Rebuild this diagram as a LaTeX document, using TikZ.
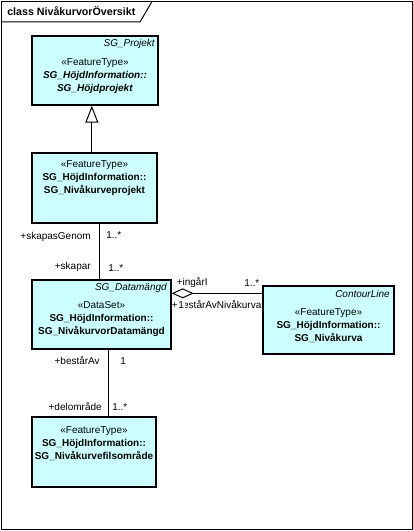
\documentclass[tikz,border=0pt]{standalone}
\usepackage{fontspec}
\setmainfont{Liberation Sans}
\usetikzlibrary{arrows.meta}
\usetikzlibrary{fit}

\definecolor{classfill}{RGB}{204,255,255}

\begin{document}
\begin{tikzpicture}[x=0.75pt,y=-0.75pt,
font=\fontsize{7.5}{9.75}\selectfont,
classbox/.style={draw,line width=1pt,fill=classfill,inner sep=0pt},
classtext/.style={align=center,inner sep=0pt},
rolelabel/.style={inner sep=0pt},
abstractname/.style={inner sep=0pt,anchor=east,font=\fontsize{7.5}{9.75}\selectfont\itshape},
gen/.style={line width=0.75pt,-{Triangle[fill=white,length=12.75pt,width=9.75pt]}},
assoc/.style={line width=0.75pt},
agg/.style={line width=0.75pt,{Diamond[fill=white,length=16.5pt,width=7.5pt]}-}]
\useasboundingbox (0,0) rectangle (413,531);
\draw[line width=0.75pt] (1.5,1.5) rectangle (412,529);
\draw[line width=0.75pt] (1.5,22) -- (140,22) -- (152,1.5);
\node (frame) [rolelabel,anchor=west,font=\fontsize{8}{10}\selectfont\bfseries]
at (7,11) {class NivåkurvorÖversikt};

\node (proj) [classbox,fit={(32,36) (158,105)}] {};
\node (projname) [abstractname] at (155,44) {SG\_Projekt};
\node (projtext) [classtext] at (95,76)
{«FeatureType»\\\textbf{\textit{SG\_HöjdInformation::}}\\\textbf{\textit{SG\_Höjdprojekt}}};

\node (nivproj) [classbox,fit={(32,153) (157,223)}] {};
\node (nivprojtext) [classtext] at (94.5,178.5)
{«FeatureType»\\\textbf{SG\_HöjdInformation::}\\\textbf{SG\_Nivåkurveprojekt}};

\node (dataset) [classbox,fit={(32,280) (171,349)}] {};
\node (datasetname) [abstractname] at (167,288) {SG\_Datamängd};
\node (datasettext) [classtext] at (101.5,319.5)
{«DataSet»\\\textbf{SG\_HöjdInformation::}\\\textbf{SG\_NivåkurvorDatamängd}};

\node (contour) [classbox,fit={(263,286) (394,354)}] {};
\node (contourname) [abstractname] at (390,294) {ContourLine};
\node (contourtext) [classtext] at (328.5,325.5)
{«FeatureType»\\\textbf{SG\_HöjdInformation::}\\\textbf{SG\_Nivåkurva}};

\node (filomr) [classbox,fit={(32,417) (156,487)}] {};
\node (filomrtext) [classtext] at (94,444)
{«FeatureType»\\\textbf{SG\_HöjdInformation::}\\\textbf{SG\_Nivåkurvefilsområde}};

% connectors
\draw[gen] ([xshift=-2pt]nivproj.north) -- ([xshift=-2pt]nivproj.north |- proj.south);
\draw[assoc] ([xshift=3.75pt]nivproj.south) -- ([xshift=3.75pt]nivproj.south |- dataset.north);
\draw[assoc] ([xshift=4.9pt]dataset.south) -- ([xshift=4.9pt]dataset.south |- filomr.north);
\draw[agg] ([yshift=-10.5pt]dataset.north east) -- ([yshift=-10.5pt]dataset.north east -| contour.west);

% role labels
\node (skapasGenom) [rolelabel,anchor=east] at (91,237) {+skapasGenom};
\node (skapasMult) [rolelabel,anchor=west] at (106,235) {1..*};
\node (skapar) [rolelabel,anchor=east] at (91,267) {+skapar};
\node (skaparMult) [rolelabel,anchor=west] at (108,268) {1..*};
\node (bestarAv) [rolelabel,anchor=east] at (100,361) {+bestårAv};
\node (bestarMult) [rolelabel,anchor=west] at (120,361) {1};
\node (delomrade) [rolelabel,anchor=east] at (102,407) {+delområde};
\node (delMult) [rolelabel,anchor=west] at (112,407) {1..*};
\node (ingarI) [rolelabel,anchor=west] at (176.5,283) {+ingårI};
\node (ingarMult) [rolelabel,anchor=west] at (244,283) {1..*};
\node (bestarNiv) [rolelabel,anchor=west] at (171.5,305) {+bestårAvNivåkurva};
\node (bestarNivMult) [rolelabel,anchor=west,fill=white,inner sep=0.5pt] at (177.5,305) {1};
\end{tikzpicture}
\end{document}
